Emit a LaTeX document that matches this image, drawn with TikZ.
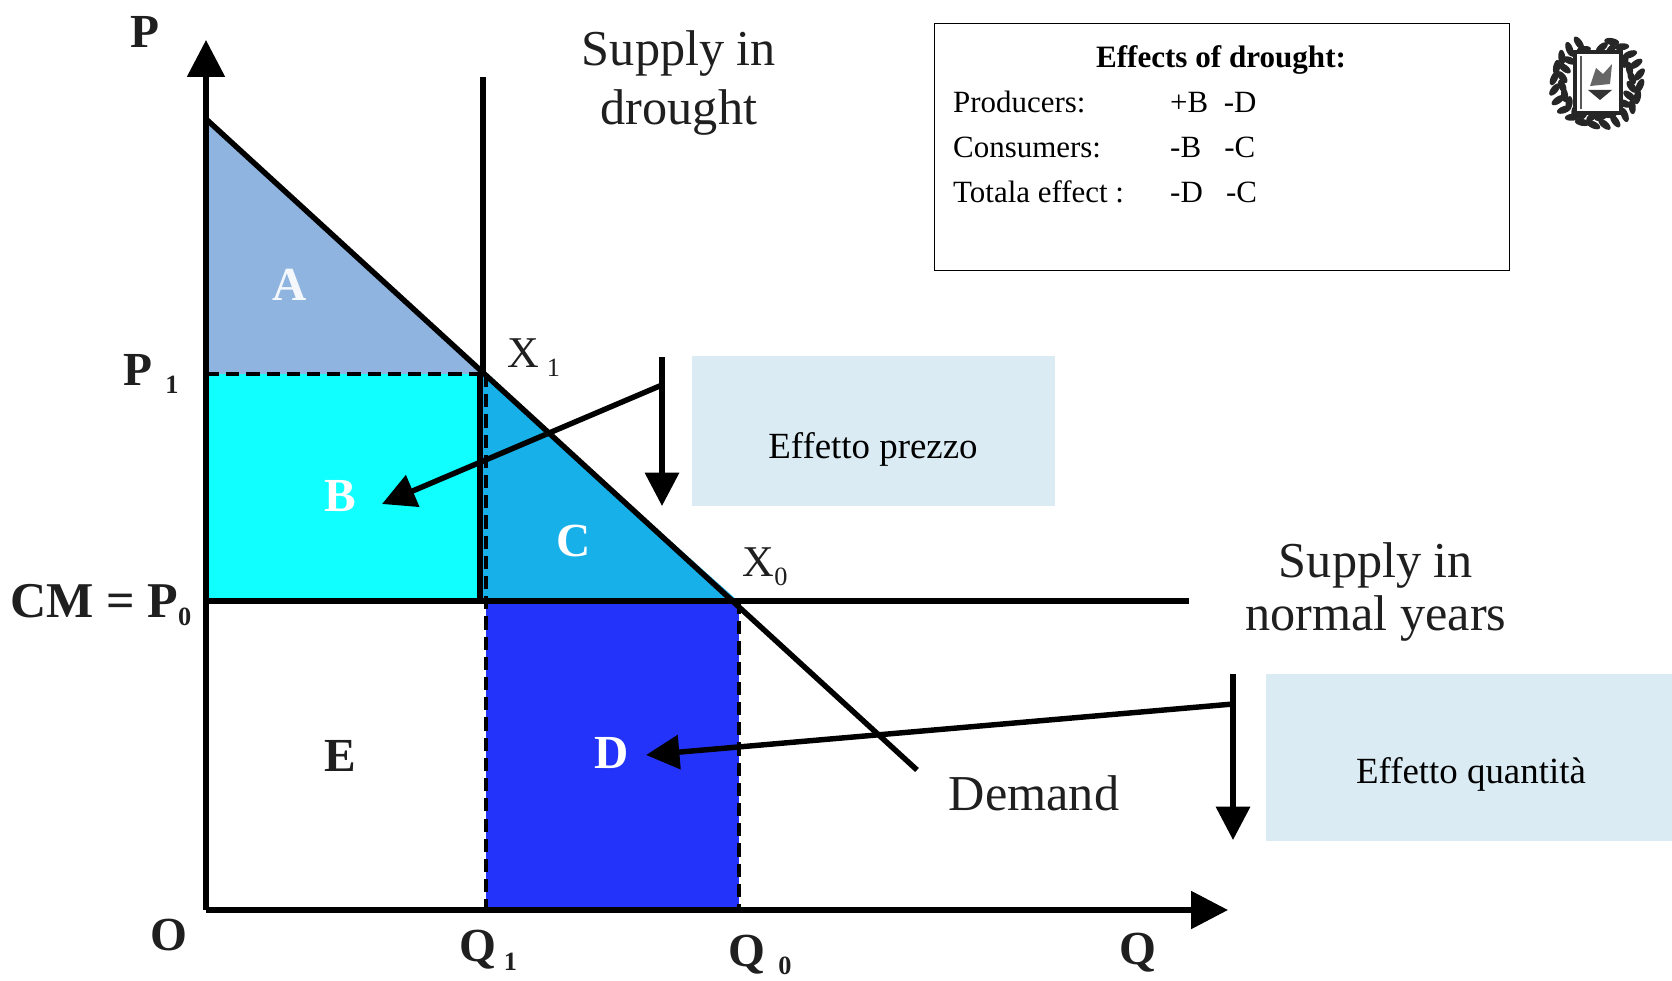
\documentclass[tikz,border=0pt]{standalone}
\usepackage{fontspec}
\setmainfont{Liberation Serif}
\usetikzlibrary{calc, positioning}
\usetikzlibrary{arrows.meta}

\definecolor{areaA}{HTML}{8FB4DF}
\definecolor{areaB}{HTML}{10FFFF}
\definecolor{areaC}{HTML}{17B0E8}
\definecolor{areaD}{HTML}{2433FA}
\definecolor{effectbox}{HTML}{DAEBF3}

\newcommand{\lowsub}[1]{\raisebox{-5pt}{\fontsize{15}{15}\selectfont #1}}

\tikzset{
    curve/.style={line width=3.1pt, black},
    dashline/.style={line width=2.4pt, black, dashed, dash pattern=on 7.5pt off 4pt},
    axisarrow/.style={line width=3.1pt, -{Triangle[length=21pt, width=21pt]}},
    pointer/.style={line width=3.1pt, -{Triangle[length=19pt, width=19pt]}},
    biglabel/.style={font=\fontsize{28.6}{30}\selectfont, text=black!88},
    axislabel/.style={font=\fontsize{27}{28}\selectfont\bfseries, text=black!88},
    arealabel/.style={font=\fontsize{27}{28}\selectfont\bfseries},
    effectlabel/.style={font=\fontsize{21}{22}\selectfont},
    tablelabel/.style={font=\fontsize{17.6}{20}\selectfont, anchor=west}
}

\begin{document}
\begin{tikzpicture}[
    x={(0.02cm,0cm)},
    y={(0cm,-0.02cm)}
]
\useasboundingbox (0,0) rectangle (1672,980);

\coordinate (O) at (206,910);
\coordinate (Ptop) at (206,40);
\coordinate (Qend) at (1228,910);
\coordinate (Dstart) at (206,119);
\coordinate (Dend) at (917,770);
\coordinate (X1) at (483,374);
\coordinate (X0) at (738,601);
\coordinate (P1) at (206,374);
\coordinate (P0) at (206,601);
\coordinate (Q1) at (486,910);
\coordinate (Q0) at (739,910);
\coordinate (Stop) at (483,77);
\coordinate (Send) at (1189,601);

% Coloured areas
\fill[areaA] (Dstart) -- (X1) -- (P1) -- cycle;
\fill[areaB] (P1) rectangle (X1 |- P0);
\fill[areaC] (X1) -- (X0) -- (X1 |- P0) -- cycle;
\fill[areaD] (Q1 |- P0) rectangle (Q0);

% Supply and demand
\draw[curve] (Dstart) -- (Dend);
\draw[curve] (Stop) -- (X1);
\draw[curve] ([xshift=-0.06cm]X1) -- ([xshift=-0.06cm]X1 |- P0);
\draw[curve] (P0) -- (Send);
\draw[dashline] (P1) -- (X1);
\draw[dashline] (Q1 |- X1) -- (Q1);
\draw[dashline] (Q0 |- P0) -- (Q0);

% Axes
\draw[axisarrow] (O) -- (Ptop);
\draw[axisarrow] (O) -- (Qend);

% Effect boxes
\node[fill=effectbox, minimum width=7.26cm, minimum height=3cm, inner sep=0pt] (prezzo) at (873.5,431) {};
\node[effectlabel] at (873,449) {Effetto prezzo};
\node[fill=effectbox, minimum width=8.12cm, minimum height=3.34cm, inner sep=0pt] (quantita) at (1469,757.5) {};
\node[effectlabel] at (1471,774) {Effetto quantit\`a};

% Pointers
\coordinate (Ptopp) at (662,357);
\coordinate (Pdown) at (662,506);
\coordinate (Pjoin) at (662,385);
\coordinate (Ptip) at (382,504);
\coordinate (Qtopp) at (1233,674);
\coordinate (Qdown) at (1233,840);
\coordinate (Qjoin) at (1233,704);
\coordinate (Qtip) at (646,755);
\draw[pointer] (Ptopp) -- (Pdown);
\draw[pointer] (Pjoin) -- (Ptip);
\draw[pointer] (Qtopp) -- (Qdown);
\draw[pointer] (Qjoin) -- (Qtip);

% Labels on the graph
\node[axislabel] (labP) at (145,32) {P};
\node[axislabel] (labP1) at (151,374) {P\;\lowsub{1}};
\node[axislabel, font=\fontsize{28.5}{28}\selectfont\bfseries] (labCM) at (101,605) {CM = P\lowsub{0}};
\node[axislabel] (labO) at (169,935) {O};
\node[axislabel] (labQ1) at (488,950) {Q\,\lowsub{1}};
\node[axislabel] (labQ0) at (760,955) {Q\;\lowsub{0}};
\node[axislabel] (labQ) at (1138,953) {Q};
\node[biglabel, font=\fontsize{25}{28}\selectfont] (labX1) at (534,358) {X\,\lowsub{1}};
\node[biglabel, font=\fontsize{25}{28}\selectfont] (labX0) at (765,567) {X\lowsub{0}};
\node[biglabel, align=center] (drought) at (679,83) {Supply in\\[4pt]drought};
\node[biglabel, align=center] (normal) at (1376,592) {Supply in\\normal years};
\node[biglabel] (demand) at (1034,793) {Demand};

\node[arealabel, text=white!90!areaA] at (290,285) {A};
\node[arealabel, text=white] at (340,496) {B};
\node[arealabel, text=white] at (574,541) {C};
\node[arealabel, text=white] at (612,753) {D};
\node[arealabel, text=black!88] at (340,756) {E};

% Table
\node[draw, line width=0.5pt, minimum width=11.5cm, minimum height=4.94cm, inner sep=0pt] (table) at (1221.5,146.5) {};
\node[font=\fontsize{17.7}{20}\selectfont\bfseries] at (1221,60) {Effects of drought:};
\node[tablelabel] at (947,102) {Producers:};
\node[tablelabel] at (947,147) {Consumers:};
\node[tablelabel] at (947,192) {Totala effect :};
\node[tablelabel] at (1164,102) {+B\ \ -D};
\node[tablelabel] at (1164,147) {-B\ \ \ -C};
\node[tablelabel] at (1164,192) {-D\ \ \ -C};

% Crest
\coordinate (crest) at (1597,82);
\foreach \a in {-160,-145,...,160}
    \fill[black!85] (crest) ++(\a+90:43) ellipse[x radius=0.15cm, y radius=0.07cm, rotate=\a+150];
\foreach \a in {-172,-157,...,172}
    \fill[black!85] (crest) ++(\a+90:35) ellipse[x radius=0.14cm, y radius=0.07cm, rotate=\a+30];
\draw[black!85, fill=white, line width=1.8pt] (1575,52) rectangle (1621,113);
\draw[black!65, line width=0.9pt] (1581,56) -- (1581,109);
\fill[black!80] (1588,90) -- (1612,90) -- (1600,100) -- cycle;
\fill[black!60] (1590,86) -- (1596,68) -- (1603,74) -- (1612,64) -- (1610,84) -- cycle;
\end{tikzpicture}
\end{document}
